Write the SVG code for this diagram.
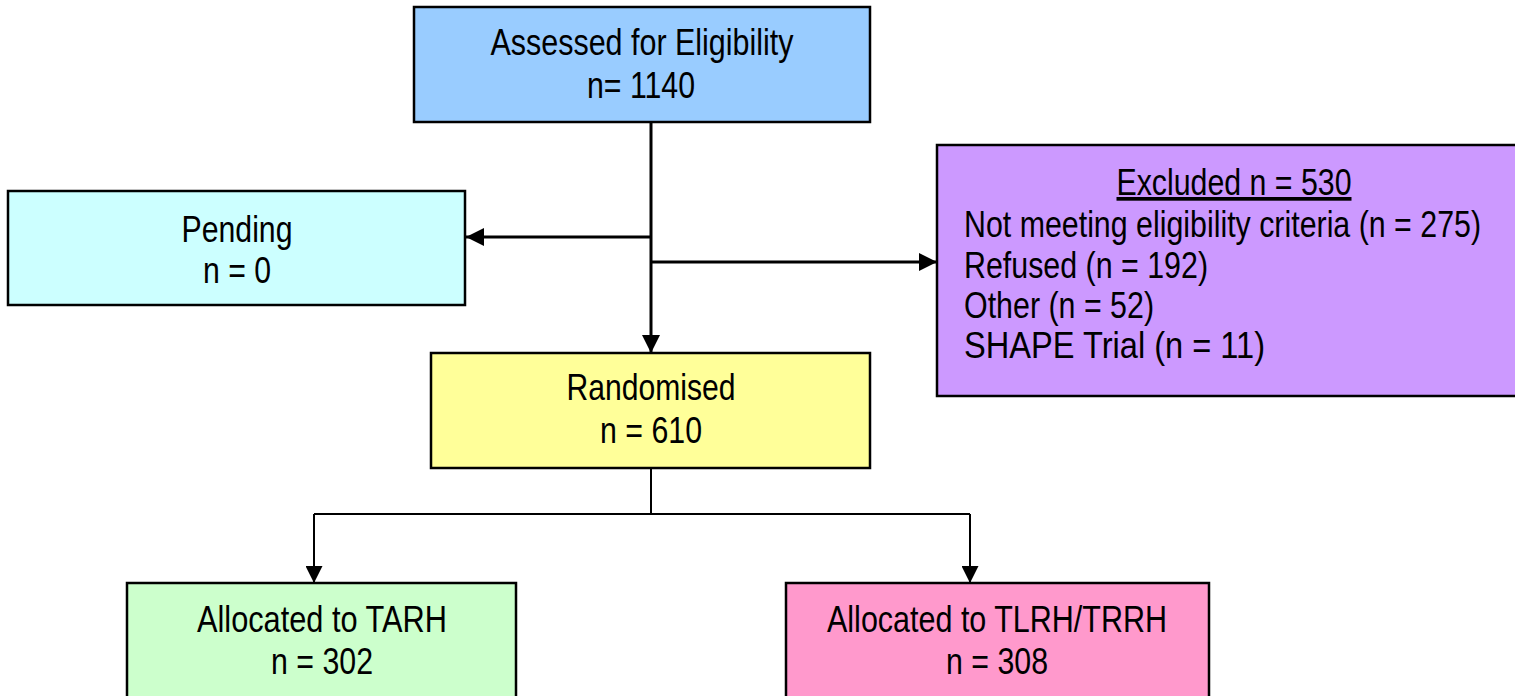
<svg xmlns="http://www.w3.org/2000/svg" width="1515" height="696" viewBox="0 0 1515 696">
<defs>
<style>
.box{stroke:#000;stroke-width:2.5}
.t{font-family:"Liberation Sans Narrow","Arial Narrow","Liberation Sans",sans-serif;font-size:37px;fill:#000}
.c{text-anchor:middle}
.ln{fill:none;stroke:#000;stroke-width:3}
.ln2{fill:none;stroke:#000;stroke-width:2}
</style>
<marker id="ah" viewBox="0 0 10 10" refX="10" refY="5" markerWidth="6" markerHeight="6" markerUnits="strokeWidth" orient="auto">
<path d="M0,0 L10,5 L0,10 z" fill="#000"/>
</marker>
<marker id="ah2" viewBox="0 0 10 10" refX="10" refY="5" markerWidth="8.5" markerHeight="8.5" markerUnits="strokeWidth" orient="auto">
<path d="M0,0 L10,5 L0,10 z" fill="#000"/>
</marker>
</defs>
<rect width="1515" height="696" fill="#fff"/>
<g id="connectors">
<line class="ln" x1="651" y1="122" x2="651" y2="353" marker-end="url(#ah)"/>
<line class="ln" x1="651" y1="237" x2="466" y2="237" marker-end="url(#ah)"/>
<line class="ln" x1="651" y1="262" x2="937" y2="262" marker-end="url(#ah)"/>
<polyline class="ln2" points="651,468 651,514"/>
<polyline class="ln2" points="314,514 970,514"/>
<line class="ln2" x1="314" y1="514" x2="314" y2="583" marker-end="url(#ah2)"/>
<line class="ln2" x1="970" y1="514" x2="970" y2="583" marker-end="url(#ah2)"/>
</g>
<g id="assessed">
<rect class="box" x="414" y="7" width="456" height="115" fill="#99CCFF"/>
<text class="t c" x="642" y="55" textLength="303" lengthAdjust="spacingAndGlyphs">Assessed for Eligibility</text>
<text class="t c" x="641" y="98" textLength="108" lengthAdjust="spacingAndGlyphs">n= 1140</text>
</g>
<g id="pending">
<rect class="box" x="8" y="191" width="457" height="114" fill="#CCFFFF"/>
<text class="t c" x="237" y="242" textLength="111" lengthAdjust="spacingAndGlyphs">Pending</text>
<text class="t c" x="237" y="283" textLength="68" lengthAdjust="spacingAndGlyphs">n = 0</text>
</g>
<g id="excluded">
<rect class="box" x="937" y="145" width="590" height="251" fill="#CC99FF"/>
<text class="t c" x="1234" y="195" text-decoration="underline" textLength="235" lengthAdjust="spacingAndGlyphs">Excluded n = 530</text>
<text class="t" x="964" y="237" textLength="517" lengthAdjust="spacingAndGlyphs">Not meeting eligibility criteria (n = 275)</text>
<text class="t" x="964" y="278" textLength="244" lengthAdjust="spacingAndGlyphs">Refused (n = 192)</text>
<text class="t" x="964" y="318" textLength="190" lengthAdjust="spacingAndGlyphs">Other (n = 52)</text>
<text class="t" x="964" y="358" textLength="301" lengthAdjust="spacingAndGlyphs">SHAPE Trial (n = 11)</text>
</g>
<g id="randomised">
<rect class="box" x="431" y="353" width="439" height="115" fill="#FFFF99"/>
<text class="t c" x="651" y="400" textLength="169" lengthAdjust="spacingAndGlyphs">Randomised</text>
<text class="t c" x="651" y="443" textLength="102" lengthAdjust="spacingAndGlyphs">n = 610</text>
</g>
<g id="tarh">
<rect class="box" x="127" y="583" width="389" height="125" fill="#CCFFCC"/>
<text class="t c" x="322" y="632" textLength="250" lengthAdjust="spacingAndGlyphs">Allocated to TARH</text>
<text class="t c" x="322" y="674" textLength="102" lengthAdjust="spacingAndGlyphs">n = 302</text>
</g>
<g id="tlrh">
<rect class="box" x="786" y="583" width="423" height="125" fill="#FF99CC"/>
<text class="t c" x="997" y="632" textLength="340" lengthAdjust="spacingAndGlyphs">Allocated to TLRH/TRRH</text>
<text class="t c" x="997" y="674" textLength="102" lengthAdjust="spacingAndGlyphs">n = 308</text>
</g>
</svg>
